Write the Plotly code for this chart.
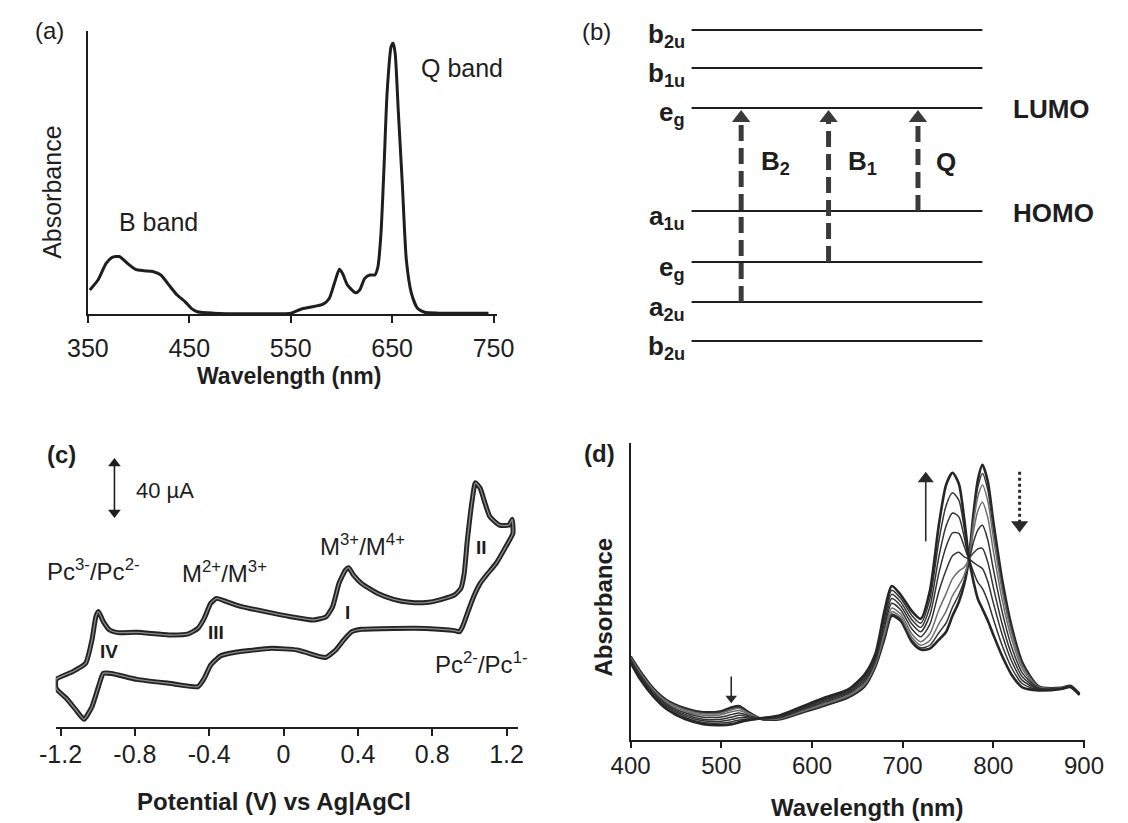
import plotly.graph_objects as go

W, H = 1128, 823
FONT = "Liberation Sans, Arial, Helvetica, sans-serif"
INK = "#1e1e1e"

# ---------------- (a) ground-state absorption spectrum ----------------
uv_wavelength = [352, 360, 368, 374, 381, 389, 397, 405, 414, 422,
                 430, 438, 446, 452, 458, 474, 506, 550, 560, 569,
                 582, 588, 593, 598, 601, 606, 614, 618, 623, 628,
                 633, 636, 639, 642, 645, 649, 651, 653, 656, 660,
                 664, 669, 675, 682, 696, 745]
uv_absorbance = [0.085, 0.120, 0.179, 0.200, 0.203, 0.179, 0.158, 0.153, 0.150, 0.138,
                 0.102, 0.067, 0.043, 0.020, 0.008, 0.003, 0.001, 0.003, 0.017, 0.024,
                 0.035, 0.055, 0.108, 0.158, 0.144, 0.102, 0.075, 0.085, 0.126, 0.138,
                 0.138, 0.167, 0.285, 0.520, 0.780, 0.945, 0.957, 0.921, 0.721, 0.462,
                 0.191, 0.073, 0.020, 0.006, 0.003, 0.003]
uv_ticks = [350, 450, 550, 650, 750]

# ---------------- (b) frontier orbital ladder ----------------
orbital_labels = ["b<sub>2u</sub>", "b<sub>1u</sub>", "e<sub>g</sub>", "a<sub>1u</sub>",
                  "e<sub>g</sub>", "a<sub>2u</sub>", "b<sub>2u</sub>"]
orbital_energy = [10.37, 9.10, 7.77, 4.33, 2.63, 1.30, 0.00]
transition_labels = ["B<sub>2</sub>", "B<sub>1</sub>", "Q"]
transition_start = [5, 4, 3]      # filled orbital the electron leaves
transition_end = [2, 2, 2]        # LUMO (e_g)
transition_xpos = [0.171, 0.471, 0.778]

# ---------------- (c) cyclic voltammogram ----------------
cv_potential = [-1.224, -1.134, -1.065, -1.031, -1.010, -0.996, -0.970, -0.936, -0.893, -0.789,
                -0.617, -0.513, -0.461, -0.427, -0.392, -0.361, -0.306, -0.237, -0.099, 0.039,
                0.160, 0.229, 0.264, 0.298, 0.333, 0.350, 0.376, 0.419, 0.505, 0.592,
                0.678, 0.764, 0.851, 0.920, 0.954, 0.972, 0.989, 1.015, 1.032, 1.058,
                1.084, 1.110, 1.161, 1.213, 1.230,
                1.234, 1.196, 1.144, 1.092, 1.058, 1.023, 0.989, 0.963, 0.946, 0.920,
                0.764, 0.592, 0.419, 0.367, 0.324, 0.281, 0.229, 0.195, 0.074, -0.064,
                -0.185, -0.289, -0.340, -0.392, -0.427, -0.461, -0.617, -0.789, -0.927, -0.970,
                -0.996, -1.031, -1.074, -1.117, -1.169, -1.224, -1.224]
cv_current = [-19.6, -14.4, -8.9, 6.7, 22.2, 25.6, 18.9, 13.3, 11.6, 11.8,
              10.0, 10.7, 14.4, 21.1, 31.1, 34.4, 32.2, 29.3, 25.6, 22.2,
              20.0, 22.2, 28.9, 44.4, 53.3, 54.9, 50.0, 44.4, 37.8, 33.8,
              31.8, 31.6, 33.8, 36.7, 41.1, 51.1, 73.3, 100.0, 111.5, 107.8,
              97.8, 88.9, 83.3, 83.3, 87.1,
              77.8, 68.9, 57.8, 50.0, 44.4, 35.6, 24.4, 15.6, 12.2, 12.9,
              14.4, 14.4, 13.8, 12.2, 6.7, 0.0, -4.9, -4.4, 0.0, 1.1,
              -0.4, -2.2, -4.0, -10.0, -18.9, -24.4, -22.2, -19.6, -15.6, -15.6,
              -24.4, -37.8, -46.2, -40.0, -32.2, -25.6, -19.6]
cv_ticks = [-1.2, -0.8, -0.4, 0.0, 0.4, 0.8, 1.2]
cv_ticktext = ["-1.2", "-0.8", "-0.4", "0", "0.4", "0.8", "1.2"]
scale_bar_ua = 40
scale_bar_potential = -0.91
scale_bar_base = 88

# ---------------- (d) spectral changes during electrolysis ----------------
sec_wavelength = [400, 410, 425, 440, 460, 480, 500, 512, 520, 530,
                  545, 565, 590, 615, 640, 658, 670, 680, 688, 698,
                  710, 720, 730, 740, 748, 755, 762, 768, 773, 778,
                  783, 788, 794, 800, 810, 820, 832, 850, 875, 885, 895]
sec_scan_1 = [.415, .345, .255, .195, .155, .135, .140, .160, .165, .135,
              .100, .100, .135, .170, .210, .265, .365, .505, .620, .595,
              .490, .450, .455, .500, .540, .620, .690, .780, .905, 1.130,
              1.305, 1.380, 1.295, 1.095, .795, .570, .385, .265, .258, .268, .228]
sec_scan_2 = [.413, .343, .253, .193, .152, .131, .136, .155, .160, .133,
              .100, .101, .137, .172, .212, .269, .369, .513, .629, .603,
              .499, .459, .472, .535, .584, .663, .726, .800, .906, 1.110,
              1.269, 1.337, 1.253, 1.061, .772, .556, .378, .264, .257, .267, .227]
sec_scan_3 = [.411, .339, .249, .189, .147, .127, .130, .148, .154, .129,
              .101, .103, .139, .176, .216, .273, .374, .525, .641, .613,
              .512, .472, .496, .581, .644, .721, .773, .826, .906, 1.083,
              1.221, 1.279, 1.197, 1.015, .742, .536, .368, .262, .257, .266, .226]
sec_scan_4 = [.407, .335, .245, .183, .141, .119, .122, .138, .144, .125,
              .101, .105, .143, .180, .220, .281, .382, .541, .659, .629,
              .530, .490, .530, .651, .732, .807, .845, .865, .908, 1.043,
              1.149, 1.192, 1.113, .947, .696, .507, .353, .260, .256, .265, .225]
sec_scan_5 = [.402, .328, .238, .176, .132, .110, .111, .124, .131, .118,
              .102, .108, .148, .187, .227, .290, .392, .564, .683, .650,
              .555, .515, .577, .744, .851, .922, .940, .917, .909, .990,
              1.053, 1.076, 1.001, .856, .636, .467, .333, .257, .255, .265, .225]
sec_scan_6 = [.398, .322, .232, .169, .123, .100, .099, .111, .119, .112,
              .103, .112, .152, .193, .233, .300, .403, .586, .707, .670,
              .580, .540, .623, .836, .969, 1.038, 1.035, .969, .911, .936,
              .957, .960, .889, .765, .575, .428, .313, .254, .254, .264, .224]
sec_scan_7 = [.393, .316, .226, .163, .115, .092, .090, .099, .107, .106,
              .104, .114, .157, .199, .239, .308, .412, .606, .728, .689,
              .602, .562, .664, .918, 1.073, 1.138, 1.118, 1.014, .912, .889,
              .873, .858, .791, .685, .522, .394, .295, .251, .253, .263, .223]
sec_scan_8 = [.389, .311, .221, .156, .108, .083, .080, .087, .096, .101,
              .104, .117, .161, .204, .244, .317, .421, .625, .749, .707,
              .623, .583, .704, .999, 1.176, 1.239, 1.202, 1.060, .914, .842,
              .789, .757, .693, .605, .468, .360, .278, .248, .252, .262, .222]
sec_scan_9 = [.385, .305, .215, .150, .100, .075, .070, .075, .085, .095,
              .105, .120, .165, .210, .250, .325, .430, .645, .770, .725,
              .645, .605, .745, 1.080, 1.280, 1.340, 1.285, 1.105, .915, .795,
              .705, .655, .595, .525, .415, .325, .260, .245, .252, .262, .222]
sec_scans = [sec_scan_1, sec_scan_2, sec_scan_3, sec_scan_4, sec_scan_5,
             sec_scan_6, sec_scan_7, sec_scan_8, sec_scan_9]
sec_ticks = [400, 500, 600, 700, 800, 900]
# trend arrows: (wavelength, tail absorbance, tip absorbance)
trend_arrows = [(725.5, 0.995, 1.345), (829.0, 1.345, 1.040), (511.0, 0.315, 0.180)]


def px(x):
    return x / W


def py(y):
    return 1 - y / H


fig = go.Figure()

# ---- (a) ----
fig.add_trace(go.Scatter(x=uv_wavelength, y=uv_absorbance, mode="lines",
                         line=dict(color=INK, width=3, shape="spline", smoothing=0.6),
                         xaxis="x", yaxis="y", cliponaxis=False, showlegend=False))

# ---- (b) ----
for e in orbital_energy:
    fig.add_trace(go.Scatter(x=[0, 1], y=[e, e], mode="lines",
                             line=dict(color=INK, width=2),
                             xaxis="x2", yaxis="y2", showlegend=False))
E_PX = 1 / 30.0   # energy units per pixel on the ladder
for i0, i1, xp in zip(transition_start, transition_end, transition_xpos):
    e_lo = orbital_energy[i0]
    e_hi = orbital_energy[i1]
    head_c = e_hi - 10 * E_PX
    fig.add_trace(go.Scatter(x=[xp, xp], y=[e_lo, head_c], mode="lines",
                             line=dict(color="#3a3a3a", width=5, dash="16px,7px"),
                             xaxis="x2", yaxis="y2", showlegend=False))
    fig.add_trace(go.Scatter(x=[xp], y=[head_c], mode="markers",
                             marker=dict(symbol="triangle-up", size=16, color="#3a3a3a"),
                             xaxis="x2", yaxis="y2", showlegend=False))

# ---- (c) ----  dark outer stroke with a lighter core
fig.add_trace(go.Scatter(x=cv_potential, y=cv_current, mode="lines",
                         line=dict(color="#232323", width=5, shape="spline", smoothing=0.5),
                         xaxis="x3", yaxis="y3", cliponaxis=False, showlegend=False))
fig.add_trace(go.Scatter(x=cv_potential, y=cv_current, mode="lines",
                         line=dict(color="#8c8c8c", width=1.3, shape="spline", smoothing=0.5),
                         xaxis="x3", yaxis="y3", cliponaxis=False, showlegend=False))
UA_PX = 1 / 1.5   # microamps per pixel
bar_top = scale_bar_base + scale_bar_ua
fig.add_trace(go.Scatter(x=[scale_bar_potential, scale_bar_potential],
                         y=[scale_bar_base + 5 * UA_PX, bar_top - 5 * UA_PX], mode="lines",
                         line=dict(color=INK, width=1.6),
                         xaxis="x3", yaxis="y3", showlegend=False))
fig.add_trace(go.Scatter(x=[scale_bar_potential, scale_bar_potential],
                         y=[bar_top - 5.5 * UA_PX, scale_bar_base + 5.5 * UA_PX], mode="markers",
                         marker=dict(symbol=["triangle-up", "triangle-down"], size=11, color=INK),
                         xaxis="x3", yaxis="y3", showlegend=False))

# ---- (d) ----
for k, scan in enumerate(sec_scans):
    end = k in (0, len(sec_scans) - 1)
    colour = "#262626" if end else ("#6e6e6e" if k in (2, 3) else "#333333")
    fig.add_trace(go.Scatter(x=sec_wavelength, y=scan, mode="lines",
                             line=dict(color=colour, width=2.6 if end else 1.5,
                                       shape="spline", smoothing=0.7),
                             xaxis="x4", yaxis="y4", cliponaxis=False, showlegend=False))
A_PX = 1 / 200.0   # absorbance units per pixel
for j, (wl, tail, tip) in enumerate(trend_arrows):
    up = tip > tail
    size = 14 if j == 0 else (15 if j == 1 else 10)
    centre = tip - size / 2 * A_PX if up else tip + size / 2 * A_PX
    fig.add_trace(go.Scatter(x=[wl, wl], y=[tail, centre], mode="lines",
                             line=dict(color="#2a2a2a", width=3 if j == 1 else 1.6,
                                       dash="dot" if j == 1 else "solid"),
                             xaxis="x4", yaxis="y4", showlegend=False))
    fig.add_trace(go.Scatter(x=[wl], y=[centre], mode="markers",
                             marker=dict(symbol="triangle-up" if up else "triangle-down",
                                         size=size, color="#2a2a2a"),
                             xaxis="x4", yaxis="y4", showlegend=False))

# ---- text ----
def label(text, x, y, size=24, bold=False, xanchor="left", yanchor="middle", angle=0,
          xref="paper", yref="paper"):
    fig.add_annotation(text=f"<b>{text}</b>" if bold else text,
                       x=px(x) if xref == "paper" else x,
                       y=py(y) if yref == "paper" else y,
                       xref=xref, yref=yref, showarrow=False,
                       xanchor=xanchor, yanchor=yanchor, textangle=angle,
                       font=dict(family=FONT, size=size, color=INK))

# (a)
label("(a)", 12, 30, size=24)
label("Q band", 413, 68, size=25)
label("B band", 100, 222, size=25)
label("Absorbance", 32, 192, size=25, xanchor="center", angle=-90)
label("Wavelength (nm)", 278, 376, size=23, bold=True, xanchor="center")

# (b)
label("(b)", 580, 32, size=24)
for name, e in zip(orbital_labels, orbital_energy):
    label(name, 690, e - 0.2, size=26, bold=True, xanchor="right", yref="y2")
label("LUMO", 1026, orbital_energy[2] - 0.05, size=26, bold=True, yref="y2")
label("HOMO", 1026, orbital_energy[3] - 0.07, size=26, bold=True, yref="y2")
for name, xl in zip(transition_labels, [765, 855, 947]):
    label(name, xl, 162, size=26, bold=True)

# (c)
label("(c)", 25, 455, size=24, bold=True)
label("40 µA", 117, 490, size=22)
label("Pc<sup>3-</sup>/Pc<sup>2-</sup>", 25, 570, size=24)
label("M<sup>2+</sup>/M<sup>3+</sup>", 165, 572, size=24)
label("M<sup>3+</sup>/M<sup>4+</sup>", 308, 545, size=24)
label("Pc<sup>2-</sup>/Pc<sup>1-</sup>", 427, 663, size=24)
label("II", 477, 547, size=19, bold=True, xanchor="center")
label("I", 339, 612, size=19, bold=True, xanchor="center")
label("III", 202, 632, size=19, bold=True, xanchor="center")
label("IV", 91, 651, size=19, bold=True, xanchor="center")
label("Potential (V) vs Ag|AgCl", 262, 801, size=24, bold=True, xanchor="center")

# (d)
label("(d)", 582, 453, size=24, bold=True)
label("Absorbance", 603, 607, size=24, bold=True, xanchor="center", angle=-90)
label("Wavelength (nm)", 877, 807, size=24, bold=True, xanchor="center")

axis_common = dict(showgrid=False, zeroline=False, showline=True, linecolor=INK,
                   linewidth=2, ticks="outside", tickcolor=INK, tickwidth=2,
                   tickfont=dict(family=FONT, size=25, color=INK))

fig.update_layout(
    width=W, height=H, margin=dict(l=0, r=0, t=0, b=0),
    paper_bgcolor="white", plot_bgcolor="white", showlegend=False,
    font=dict(family=FONT, color=INK),
    xaxis=dict(axis_common, domain=[px(69.3), px(493)], range=[350, 752.9], anchor="y",
               tickvals=uv_ticks, ticklen=7, ticklabelstandoff=4),
    yaxis=dict(domain=[py(314), py(31)], range=[0, 1], anchor="x", showgrid=False,
               zeroline=False, showline=True, linecolor=INK, linewidth=2,
               showticklabels=False, ticks=""),
    xaxis2=dict(domain=[px(695), px(997)], range=[0, 1], anchor="y2", visible=False),
    yaxis2=dict(domain=[py(356), py(11)], range=[-0.5, 11], anchor="x2", visible=False),
    xaxis3=dict(axis_common, domain=[px(36), px(515)], range=[-1.226, 1.26], anchor="y3",
                tickvals=cv_ticks, ticktext=cv_ticktext, ticklen=7, ticklabelstandoff=-3),
    yaxis3=dict(domain=[py(727), py(440)], range=[-51.33, 140], anchor="x3", visible=False),
    xaxis4=dict(axis_common, domain=[px(632), px(1103)], range=[400, 901], anchor="y4",
                tickvals=sec_ticks, ticklen=6, ticklabelstandoff=-3,
                tickfont=dict(family=FONT, size=24, color=INK)),
    yaxis4=dict(domain=[py(740), py(443)], range=[-0.005, 1.49], anchor="x4", showgrid=False,
                zeroline=False, showline=True, linecolor=INK, linewidth=2,
                showticklabels=False, ticks=""),
)

fig.write_html("out.html")
